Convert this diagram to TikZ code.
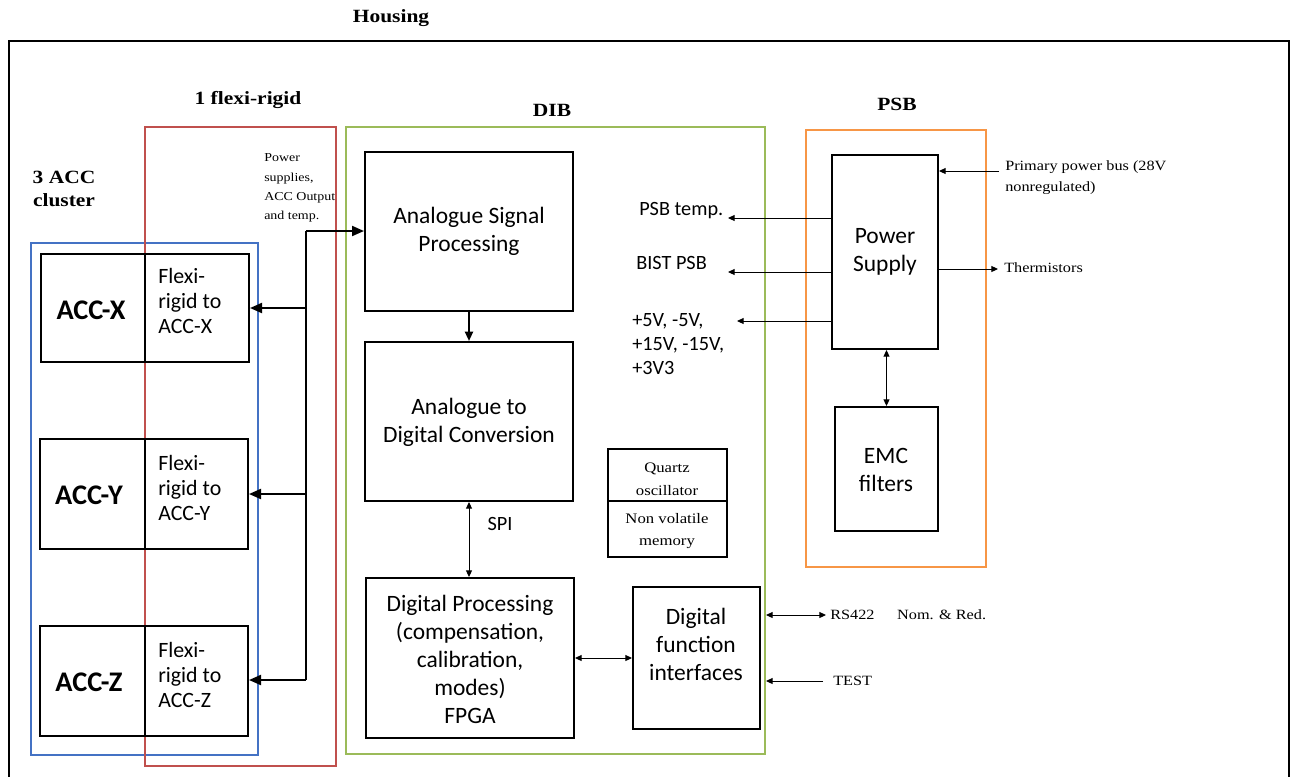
\documentclass[tikz,border=0pt]{standalone}
\usepackage{fontspec}
\setmainfont[FakeStretch=1.15]{Liberation Serif}
\newfontfamily\calib{Carlito}
\usetikzlibrary{arrows.meta,fit}
\definecolor{cblue}{RGB}{68,114,196}
\definecolor{cred}{RGB}{192,80,77}
\definecolor{cgreen}{RGB}{155,187,89}
\definecolor{corange}{RGB}{247,150,70}
\begin{document}
\begin{tikzpicture}[x=0.75pt,y=-0.75pt,
  box/.style={draw, line width=1.5pt, inner sep=0pt},
  frame/.style={draw, line width=1.1pt, inner sep=0pt},
  ttl/.style={font=\fontsize{14}{17}\selectfont\bfseries, align=center, inner sep=0pt},
  sans/.style={font=\calib\fontsize{17.6}{21}\selectfont, align=center, inner sep=0pt},
  accl/.style={font=\calib\fontsize{21.3}{23}\selectfont\bfseries, inner sep=0pt},
  flx/.style={font=\calib\fontsize{16.4}{18.75}\selectfont, align=left, anchor=west, inner sep=0pt},
  psl/.style={font=\calib\fontsize{15.2}{18}\selectfont, align=left, anchor=west, inner sep=0pt},
  sml/.style={font=\fontsize{9.1}{14.5}\selectfont, align=left, anchor=west, inner sep=0pt},
  qz/.style={font=\fontsize{10.9}{17}\selectfont, align=center, inner sep=0pt},
  rgt/.style={font=\fontsize{10.6}{15.75}\selectfont, align=left, anchor=west, inner sep=0pt},
  busarr/.style={line width=1.5pt, -{Triangle[length=9pt,width=7.5pt]}},
  busln/.style={line width=1.5pt},
  medarr/.style={line width=1.5pt, -{Triangle[length=7pt,width=6pt]}},
  thinarr/.style={line width=0.75pt, -{Triangle[length=5pt,width=4.5pt]}},
  thinboth/.style={line width=0.75pt, {Triangle[length=5pt,width=4.5pt]}-{Triangle[length=5pt,width=4.5pt]}}
]
\useasboundingbox (0,0) rectangle (1290,776);

% Housing
\node[ttl] (housingT) at (391,18) {Housing};
\node[draw, line width=1.5pt, inner sep=0pt, fit={(9,41)(1289,800)}] (housing) {};

% Titles
\node[ttl] (flexT) at (248,100) {1 flexi-rigid};
\node[ttl] (accT) at (64,189) {3 ACC\\cluster};
\node[ttl] (dibT) at (552,110) {DIB};
\node[ttl] (psbT) at (897,104) {PSB};

% Colored frames
\node[frame, draw=cblue, fit={(31,243)(258,755)}] (cluster) {};
\node[frame, draw=cred, fit={(145,127)(336,766)}] (flexi) {};
\node[frame, draw=cgreen, fit={(346,127)(765,754)}] (dib) {};
\node[frame, draw=corange, fit={(806,130)(986,567)}] (psb) {};

% ACC boxes
\node[box, fit={(41,254)(145,362)}] (accx) {};
\node[box, fit={(145,254)(249,362)}] (fx) {};
\node[accl] (accxT) at (91,310) {ACC-X};
\node[flx] (fxT) at (158,301) {Flexi-\\rigid to\\ACC-X};

\node[box, fit={(40,439)(145,549)}] (accy) {};
\node[box, fit={(145,439)(248,549)}] (fy) {};
\node[accl] (accyT) at (89,495) {ACC-Y};
\node[flx] (fyT) at (158,488) {Flexi-\\rigid to\\ACC-Y};

\node[box, fit={(40,626)(145,736)}] (accz) {};
\node[box, fit={(145,626)(248,736)}] (fz) {};
\node[accl] (acczT) at (89,682) {ACC-Z};
\node[flx] (fzT) at (158,675) {Flexi-\\rigid to\\ACC-Z};

\node[sml] (pwrT) at (264,188) {Power\\supplies,\\ACC Output\\and temp.};

% DIB blocks
\node[box, fit={(365,152)(573,311)}] (asp) {};
\node[sans] (aspT) at (469,231) {Analogue Signal\\Processing};
\node[box, fit={(365,342)(573,501)}] (adc) {};
\node[sans] (adcT) at (469,422) {Analogue to\\Digital Conversion};
\node[box, fit={(366,578)(574,738)}] (dp) {};
\node[sans] (dpT) at (470,659) {Digital Processing\\(compensation,\\calibration,\\modes)\\FPGA};
\node[box, fit={(633,587)(760,729)}] (dfi) {};
\node[sans] (dfiT) at (696,644) {Digital\\function\\interfaces};
\node[box, line width=1.2pt, fit={(608,449)(727,501)}] (qzb) {};
\node[box, line width=1.2pt, fit={(608,501)(727,557)}] (nvm) {};
\node[qz] (qzT) at (667,479) {Quartz\\oscillator};
\node[qz] (nvmT) at (667,531) {Non volatile\\memory};
\node[psl, anchor=center] (spiT) at (500,524) {SPI};

% PSB blocks
\node[box, fit={(832,155)(938,349)}] (ps) {};
\node[sans] (psT) at (885,252) {Power\\Supply};
\node[box, fit={(835,407)(938,531)}] (emc) {};
\node[sans] (emcT) at (886,470) {EMC\\filters};

% labels left of PS
\node[psl] (ptT) at (639,211) {PSB temp.};
\node[psl] (bistT) at (636,263) {BIST PSB};
\node[psl] (voltT) at (632,344) {+5V, -5V,\\+15V, -15V,\\+3V3};

% right-side labels
\node[rgt] (ppbT) at (1005,178) {Primary power bus (28V\\nonregulated)};
\node[rgt] (thT) at (1004,268) {Thermistors};
\node[rgt] (rsT) at (830,615) {RS422\hspace{1.6em}Nom. \& Red.};
\node[rgt] (testT) at (833,681) {TEST};

% coordinates
\coordinate (jtop) at (306,231);
\coordinate (jx) at (306,308);
\coordinate (jy) at (306,494);
\coordinate (jz) at (306,680);
\coordinate (ptE) at (728,218);
\coordinate (bistE) at (728,272);
\coordinate (voltE) at (737,321);
\coordinate (ppbS) at (999,171);
\coordinate (thE) at (998,269);
\coordinate (rsA) at (766,615);
\coordinate (rsB) at (826,615);
\coordinate (testS) at (823,681);
\coordinate (testE) at (766,681);

% bus
\draw[busln] (jz) -- (jtop);
\draw[busarr] (jtop) -- (jtop -| asp.west);
\draw[busarr] (jx) -- (jx -| fx.east);
\draw[busarr] (jy) -- (jy -| fy.east);
\draw[busarr] (jz) -- (jz -| fz.east);

% DIB connectors
\draw[medarr] (asp.south) -- (adc.north);
\draw[thinboth] (adc.south) -- (adc.south |- dp.north);
\draw[thinboth] (dp.east) -- (dp.east -| dfi.west);

% PSB connectors
\draw[thinarr] (ptE -| ps.west) -- (ptE);
\draw[thinarr] (bistE -| ps.west) -- (bistE);
\draw[thinarr] (voltE -| ps.west) -- (voltE);
\draw[thinarr] (ppbS) -- (ppbS -| ps.east);
\draw[thinarr] (thE -| ps.east) -- (thE);
\draw[thinboth] (emc.north |- ps.south) -- (emc.north);

% external
\draw[thinboth] (rsA) -- (rsB);
\draw[thinarr] (testS) -- (testE);
\end{tikzpicture}
\end{document}
